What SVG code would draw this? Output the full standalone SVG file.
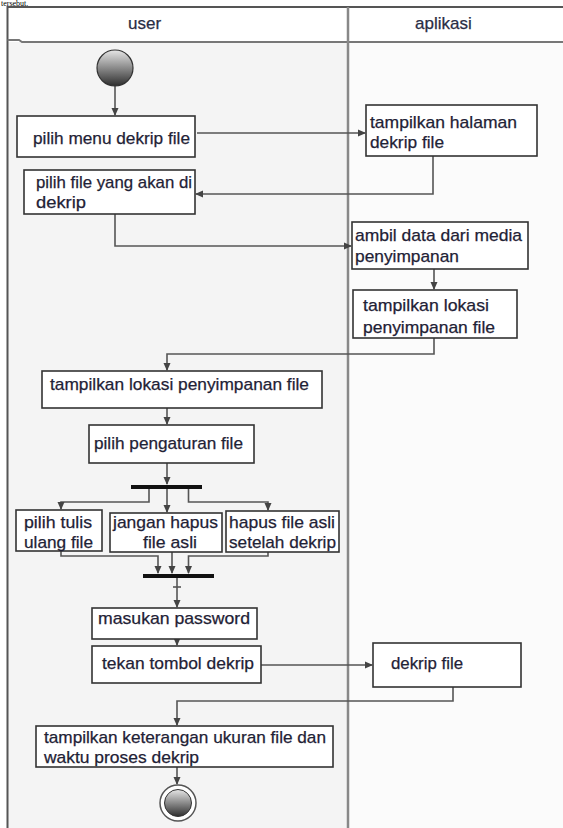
<svg xmlns="http://www.w3.org/2000/svg" width="563" height="828" viewBox="0 0 563 828">
<style>
.box{fill:#ffffff;stroke:#333333;stroke-width:1.6}
.t{font-family:"Liberation Sans",Arial,sans-serif;font-size:17px;fill:#1f2236;stroke:#1f2236;stroke-width:0.25}
.h{font-family:"Liberation Sans",Arial,sans-serif;font-size:17px;fill:#2a2d45;stroke:#2a2d45;stroke-width:0.25}
.c{fill:none;stroke:#555555;stroke-width:1.6;marker-end:url(#ah)}
.cl{fill:none;stroke:#555555;stroke-width:1.6}
.bar{fill:#111111}
</style>
<defs>
<marker id="ah" markerWidth="8" markerHeight="8" refX="7" refY="4" orient="auto" markerUnits="userSpaceOnUse">
<path d="M0,0.5 L8,4 L0,7.5 z" fill="#444444"/>
</marker>
<linearGradient id="g" x1="0" y1="0" x2="0" y2="1">
<stop offset="0" stop-color="#e6e6e6"/>
<stop offset="1" stop-color="#2e2e2e"/>
</linearGradient>
</defs>
<rect x="0" y="0" width="563" height="828" fill="#ffffff"/>
<text x="1" y="6" style="font-family:'Liberation Serif',serif;font-size:8px;fill:#000">tersebut.</text>
<g id="lanes">
<rect x="8" y="42" width="340" height="786" fill="#f4f4f4"/>
<rect x="348" y="42" width="215" height="786" fill="#fbfbfb"/>
<path d="M7.5,828 V7 H563" fill="none" stroke="#555" stroke-width="2"/>
<path d="M7.5,40 H19 L22,42 H563" fill="none" stroke="#777" stroke-width="2"/>
<line x1="348" y1="7" x2="348" y2="828" stroke="#888" stroke-width="2.5"/>
<text class="h" x="128" y="29">user</text>
<text class="h" x="415" y="29">aplikasi</text>
</g>
<g id="connectors">
<path class="c" d="M115,86 V115"/>
<path class="c" d="M197,133 H365"/>
<path class="c" d="M433,156 V194 H196"/>
<path class="c" d="M115,214 V246 H351"/>
<path class="c" d="M434,269 V289"/>
<path class="c" d="M434,338 V354 H167 V370"/>
<path class="c" d="M167,408 V424"/>
<path class="c" d="M167,463 V484"/>
<path class="c" d="M149,489 V502 H61 V509"/>
<path class="c" d="M167,489 V512"/>
<path class="c" d="M188.5,489 V502 H268 V510"/>
<path class="c" d="M61,551 V556 H158 V573"/>
<path class="c" d="M172,552 V573"/>
<path class="c" d="M268,552 V556 H188.5 V573"/>
<path class="c" d="M177,578 V607"/>
<line class="cl" x1="173" y1="587" x2="181" y2="587"/>
<path class="c" d="M177,639 V645"/>
<path class="c" d="M261,665 H372"/>
<path class="c" d="M453,687 V701 H177 V725"/>
<path class="c" d="M177,767 V784"/>
</g>
<g id="start"><circle cx="115" cy="68" r="18" fill="url(#g)" stroke="#333" stroke-width="1.2"/></g>
<g id="n1"><rect class="box" x="17" y="116" width="178" height="41"/>
<text class="t" x="33" y="144" textLength="157" lengthAdjust="spacingAndGlyphs">pilih menu dekrip file</text></g>
<g id="n2"><rect class="box" x="366" y="105" width="171" height="51"/>
<text class="t" x="370" y="128" textLength="147" lengthAdjust="spacingAndGlyphs">tampilkan halaman</text>
<text class="t" x="370" y="148" textLength="74" lengthAdjust="spacingAndGlyphs">dekrip file</text></g>
<g id="n3"><rect class="box" x="24" y="170" width="171" height="44"/>
<text class="t" x="36" y="188" textLength="156" lengthAdjust="spacingAndGlyphs">pilih file yang akan di</text>
<text class="t" x="36" y="208" textLength="50" lengthAdjust="spacingAndGlyphs">dekrip</text></g>
<g id="n4"><rect class="box" x="352" y="222" width="176" height="47"/>
<text class="t" x="355" y="241" textLength="167" lengthAdjust="spacingAndGlyphs">ambil data dari media</text>
<text class="t" x="355" y="262" textLength="104" lengthAdjust="spacingAndGlyphs">penyimpanan</text></g>
<g id="n5"><rect class="box" x="353" y="290" width="164" height="48"/>
<text class="t" x="363" y="311" textLength="126" lengthAdjust="spacingAndGlyphs">tampilkan lokasi</text>
<text class="t" x="363" y="333" textLength="132" lengthAdjust="spacingAndGlyphs">penyimpanan file</text></g>
<g id="n6"><rect class="box" x="42" y="371" width="280" height="37"/>
<text class="t" x="50" y="390" textLength="259" lengthAdjust="spacingAndGlyphs">tampilkan lokasi penyimpanan file</text></g>
<g id="n7"><rect class="box" x="89" y="425" width="165" height="38"/>
<text class="t" x="94" y="449" textLength="149" lengthAdjust="spacingAndGlyphs">pilih pengaturan file</text></g>
<g id="fork"><rect class="bar" x="131" y="485" width="71" height="4"/></g>
<g id="n8"><rect class="box" x="16" y="510" width="86" height="41"/>
<text class="t" x="24" y="528" textLength="68" lengthAdjust="spacingAndGlyphs">pilih tulis</text>
<text class="t" x="24" y="548" textLength="69" lengthAdjust="spacingAndGlyphs">ulang file</text></g>
<g id="n9"><rect class="box" x="110" y="513" width="112" height="39"/>
<text class="t" x="113" y="528" textLength="105" lengthAdjust="spacingAndGlyphs">jangan hapus</text>
<text class="t" x="143" y="548" textLength="54" lengthAdjust="spacingAndGlyphs">file asli</text></g>
<g id="n10"><rect class="box" x="226" y="511" width="113" height="41"/>
<text class="t" x="229" y="528" textLength="106" lengthAdjust="spacingAndGlyphs">hapus file asli</text>
<text class="t" x="229" y="548" textLength="107" lengthAdjust="spacingAndGlyphs">setelah dekrip</text></g>
<g id="join"><rect class="bar" x="143" y="574" width="71" height="4"/></g>
<g id="n11"><rect class="box" x="92" y="608" width="165" height="31"/>
<text class="t" x="98" y="624" textLength="152" lengthAdjust="spacingAndGlyphs">masukan password</text></g>
<g id="n12"><rect class="box" x="92" y="646" width="169" height="37"/>
<text class="t" x="102" y="669" textLength="152" lengthAdjust="spacingAndGlyphs">tekan tombol dekrip</text></g>
<g id="n13"><rect class="box" x="373" y="643" width="148" height="44"/>
<text class="t" x="391" y="669" textLength="72" lengthAdjust="spacingAndGlyphs">dekrip file</text></g>
<g id="n14"><rect class="box" x="36" y="726" width="297" height="41"/>
<text class="t" x="44" y="743" textLength="282" lengthAdjust="spacingAndGlyphs">tampilkan keterangan ukuran file dan</text>
<text class="t" x="44" y="763" textLength="155" lengthAdjust="spacingAndGlyphs">waktu proses dekrip</text></g>
<g id="end"><circle cx="178" cy="803" r="18" fill="#ffffff" stroke="#555" stroke-width="1.5"/>
<circle cx="178" cy="803" r="13.5" fill="url(#g)" stroke="#333" stroke-width="1"/></g>
</svg>
